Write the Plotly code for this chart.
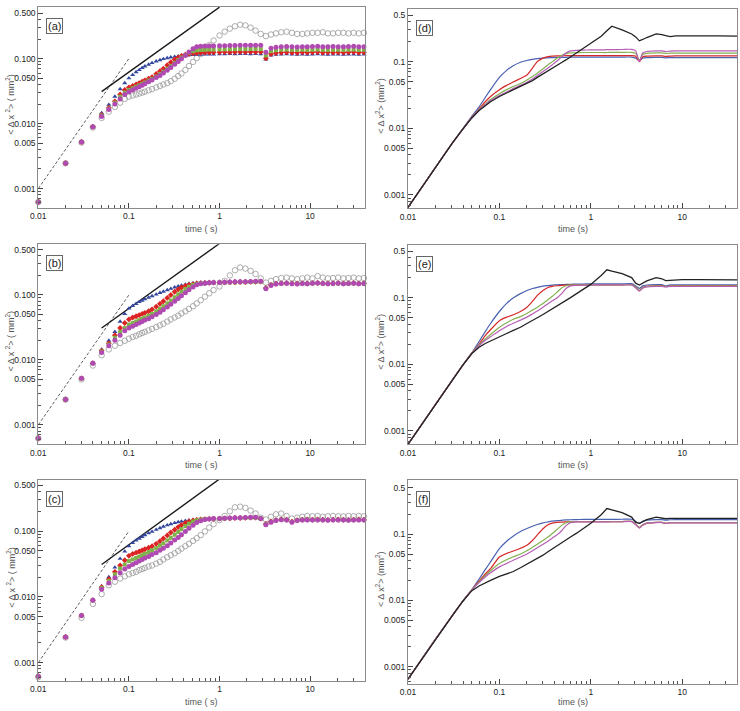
import plotly.graph_objects as go

# ---------------- data: left panels (markers) ----------------
T = [0.01, 0.02, 0.03, 0.04, 0.05, 0.06, 0.07, 0.08, 0.09, 0.10,
     0.11, 0.12, 0.13, 0.14, 0.15, 0.165, 0.18, 0.20, 0.22, 0.24, 0.265, 0.29, 0.32, 0.35, 0.38, 0.42,
     0.46, 0.51, 0.56, 0.62, 0.69, 0.77, 0.86,
     1.0, 1.14, 1.3, 1.48, 1.69, 1.93, 2.2, 2.5, 2.85, 3.25, 3.7, 4.2, 4.8, 5.5, 6.3, 7.2, 8.2, 9.3,
     10.6, 12.1, 13.8, 15.7, 17.9, 20.4, 23.3, 26.5, 30.2, 34.4, 39.2]

a_blue = [0.00062, 0.00245, 0.0052, 0.0090, 0.0146, 0.0195, 0.026, 0.034, 0.042, 0.050,
          0.056, 0.062, 0.067, 0.072, 0.076, 0.081, 0.086, 0.091, 0.095, 0.099, 0.102, 0.105, 0.107, 0.109, 0.111, 0.112, 0.113, 0.114, 0.115, 0.115, 0.116, 0.116, 0.116,
          0.117, 0.117, 0.118, 0.117, 0.118, 0.118, 0.117, 0.118, 0.117, 0.097, 0.112, 0.115, 0.116, 0.117, 0.116, 0.115, 0.116, 0.115, 0.116, 0.117, 0.116, 0.115, 0.116, 0.116, 0.115, 0.116, 0.116, 0.115, 0.116]
a_red = [0.00062, 0.00245, 0.0052, 0.0089, 0.0136, 0.0175, 0.022, 0.028, 0.033, 0.036,
         0.038, 0.040, 0.042, 0.044, 0.046, 0.049, 0.052, 0.058, 0.064, 0.070, 0.079, 0.088, 0.097, 0.104, 0.110, 0.115, 0.118, 0.121, 0.122, 0.123, 0.124, 0.124, 0.125,
         0.125, 0.126, 0.125, 0.126, 0.127, 0.126, 0.127, 0.126, 0.127, 0.101, 0.118, 0.122, 0.124, 0.125, 0.124, 0.123, 0.125, 0.124, 0.125, 0.126, 0.124, 0.125, 0.124, 0.125, 0.124, 0.125, 0.126, 0.124, 0.125]
a_green = [0.00062, 0.00245, 0.0052, 0.0089, 0.0133, 0.0170, 0.021, 0.026, 0.030, 0.033,
           0.035, 0.037, 0.039, 0.041, 0.043, 0.046, 0.049, 0.053, 0.058, 0.063, 0.070, 0.077, 0.086, 0.095, 0.104, 0.114, 0.123, 0.130, 0.134, 0.136, 0.137, 0.138, 0.138,
           0.139, 0.139, 0.140, 0.140, 0.141, 0.140, 0.141, 0.141, 0.140, 0.112, 0.130, 0.135, 0.137, 0.138, 0.137, 0.136, 0.137, 0.136, 0.137, 0.138, 0.137, 0.136, 0.137, 0.137, 0.136, 0.137, 0.138, 0.136, 0.137]
a_mag = [0.00062, 0.00245, 0.0052, 0.0089, 0.0128, 0.0165, 0.020, 0.024, 0.028, 0.031,
         0.033, 0.035, 0.037, 0.039, 0.041, 0.044, 0.047, 0.051, 0.055, 0.060, 0.066, 0.073, 0.082, 0.090, 0.100, 0.112, 0.126, 0.142, 0.152, 0.155, 0.156, 0.157, 0.157,
         0.158, 0.158, 0.159, 0.159, 0.160, 0.160, 0.160, 0.161, 0.160, 0.125, 0.145, 0.150, 0.153, 0.154, 0.152, 0.151, 0.153, 0.152, 0.154, 0.155, 0.153, 0.152, 0.154, 0.153, 0.152, 0.154, 0.155, 0.153, 0.153]
a_open = [0.00062, 0.00245, 0.0051, 0.0087, 0.0122, 0.0152, 0.018, 0.021, 0.024, 0.026,
          0.027, 0.028, 0.029, 0.030, 0.031, 0.0325, 0.034, 0.036, 0.038, 0.040, 0.042, 0.045, 0.049, 0.054, 0.059, 0.067, 0.077, 0.089, 0.102, 0.118, 0.138, 0.162, 0.19,
          0.227, 0.26, 0.29, 0.315, 0.333, 0.325, 0.30, 0.27, 0.24, 0.222, 0.235, 0.245, 0.255, 0.26, 0.25, 0.24, 0.24, 0.245, 0.25, 0.25, 0.255, 0.245, 0.245, 0.25, 0.25, 0.245, 0.25, 0.245, 0.25]

b_blue = [0.00062, 0.00245, 0.0052, 0.0090, 0.0145, 0.0198, 0.027, 0.039, 0.051, 0.062,
          0.068, 0.073, 0.078, 0.082, 0.086, 0.091, 0.096, 0.102, 0.108, 0.113, 0.119, 0.125, 0.131, 0.136, 0.140, 0.145, 0.149, 0.152, 0.154, 0.156, 0.157, 0.158, 0.159,
          0.160, 0.160, 0.161, 0.161, 0.162, 0.162, 0.162, 0.163, 0.163, 0.130, 0.145, 0.150, 0.153, 0.154, 0.153, 0.152, 0.153, 0.152, 0.154, 0.155, 0.153, 0.152, 0.153, 0.154, 0.152, 0.153, 0.154, 0.152, 0.153]
b_red = [0.00062, 0.00245, 0.0052, 0.0089, 0.0138, 0.018, 0.024, 0.031, 0.037, 0.042,
         0.045, 0.047, 0.049, 0.051, 0.053, 0.056, 0.060, 0.066, 0.073, 0.080, 0.090, 0.100, 0.112, 0.122, 0.130, 0.138, 0.143, 0.147, 0.150, 0.152, 0.153, 0.154, 0.155,
         0.156, 0.156, 0.157, 0.157, 0.158, 0.158, 0.159, 0.159, 0.160, 0.128, 0.143, 0.149, 0.151, 0.152, 0.151, 0.150, 0.151, 0.150, 0.152, 0.153, 0.151, 0.150, 0.151, 0.152, 0.150, 0.151, 0.152, 0.150, 0.151]
b_green = [0.00062, 0.00245, 0.0052, 0.0089, 0.0135, 0.0172, 0.022, 0.027, 0.031, 0.035,
           0.037, 0.039, 0.041, 0.043, 0.045, 0.048, 0.051, 0.056, 0.061, 0.067, 0.074, 0.082, 0.092, 0.102, 0.112, 0.124, 0.134, 0.143, 0.148, 0.151, 0.152, 0.153, 0.154,
           0.155, 0.155, 0.156, 0.156, 0.157, 0.157, 0.158, 0.158, 0.159, 0.127, 0.142, 0.148, 0.150, 0.151, 0.150, 0.149, 0.150, 0.149, 0.151, 0.152, 0.150, 0.149, 0.150, 0.151, 0.149, 0.150, 0.151, 0.149, 0.150]
b_mag = [0.00062, 0.00245, 0.0052, 0.0089, 0.013, 0.0165, 0.020, 0.024, 0.028, 0.031,
         0.033, 0.035, 0.037, 0.039, 0.041, 0.043, 0.046, 0.050, 0.054, 0.059, 0.065, 0.072, 0.080, 0.088, 0.097, 0.108, 0.120, 0.133, 0.143, 0.149, 0.152, 0.154, 0.155,
         0.156, 0.157, 0.158, 0.159, 0.160, 0.160, 0.161, 0.162, 0.162, 0.125, 0.140, 0.147, 0.150, 0.151, 0.149, 0.148, 0.150, 0.149, 0.151, 0.153, 0.150, 0.149, 0.150, 0.151, 0.149, 0.150, 0.151, 0.149, 0.150]
b_open = [0.00062, 0.00245, 0.0050, 0.0082, 0.0118, 0.0145, 0.0165, 0.0182, 0.0197, 0.0212,
          0.0225, 0.0235, 0.0248, 0.026, 0.027, 0.0285, 0.030, 0.032, 0.034, 0.036, 0.039, 0.042, 0.045, 0.048, 0.052, 0.056, 0.061, 0.067, 0.074, 0.083, 0.094, 0.106, 0.119,
          0.135, 0.165, 0.20, 0.24, 0.265, 0.255, 0.235, 0.21, 0.18, 0.155, 0.165, 0.175, 0.182, 0.185, 0.18, 0.175, 0.18, 0.185, 0.18, 0.195, 0.185, 0.18, 0.182, 0.185, 0.18, 0.182, 0.185, 0.18, 0.182]

c_blue = [0.00062, 0.00245, 0.0052, 0.0090, 0.0145, 0.020, 0.028, 0.038, 0.049, 0.059,
          0.066, 0.072, 0.077, 0.082, 0.087, 0.093, 0.098, 0.105, 0.111, 0.117, 0.123, 0.128, 0.133, 0.137, 0.140, 0.143, 0.146, 0.148, 0.150, 0.151, 0.152, 0.153, 0.154,
          0.155, 0.156, 0.157, 0.158, 0.158, 0.159, 0.160, 0.160, 0.155, 0.130, 0.140, 0.148, 0.152, 0.150, 0.140, 0.148, 0.150, 0.151, 0.150, 0.151, 0.150, 0.149, 0.150, 0.151, 0.150, 0.149, 0.150, 0.151, 0.150]
c_red = [0.00062, 0.00245, 0.0052, 0.0089, 0.014, 0.0185, 0.024, 0.030, 0.036, 0.042,
         0.045, 0.047, 0.049, 0.051, 0.053, 0.056, 0.059, 0.064, 0.070, 0.077, 0.086, 0.095, 0.105, 0.115, 0.124, 0.133, 0.140, 0.145, 0.148, 0.150, 0.152, 0.153, 0.154,
         0.155, 0.156, 0.157, 0.158, 0.158, 0.159, 0.160, 0.160, 0.155, 0.128, 0.139, 0.147, 0.151, 0.149, 0.139, 0.147, 0.149, 0.150, 0.149, 0.150, 0.149, 0.148, 0.149, 0.150, 0.149, 0.148, 0.149, 0.150, 0.149]
c_green = [0.00062, 0.00245, 0.0052, 0.0089, 0.0137, 0.0175, 0.022, 0.027, 0.031, 0.035,
           0.037, 0.039, 0.041, 0.043, 0.045, 0.048, 0.051, 0.055, 0.060, 0.065, 0.072, 0.079, 0.088, 0.097, 0.107, 0.119, 0.130, 0.140, 0.146, 0.150, 0.152, 0.153, 0.154,
           0.155, 0.156, 0.157, 0.158, 0.158, 0.159, 0.160, 0.160, 0.155, 0.127, 0.138, 0.146, 0.150, 0.148, 0.138, 0.146, 0.148, 0.149, 0.148, 0.149, 0.148, 0.147, 0.148, 0.149, 0.148, 0.147, 0.148, 0.149, 0.148]
c_mag = [0.00062, 0.00245, 0.0052, 0.0089, 0.013, 0.0163, 0.0195, 0.0232, 0.0265, 0.029,
         0.031, 0.033, 0.035, 0.037, 0.039, 0.041, 0.044, 0.047, 0.051, 0.055, 0.060, 0.066, 0.073, 0.080, 0.088, 0.099, 0.110, 0.123, 0.135, 0.144, 0.150, 0.153, 0.155,
         0.156, 0.157, 0.158, 0.159, 0.160, 0.161, 0.162, 0.162, 0.156, 0.125, 0.136, 0.145, 0.149, 0.147, 0.136, 0.145, 0.147, 0.148, 0.147, 0.148, 0.147, 0.146, 0.147, 0.148, 0.147, 0.146, 0.147, 0.148, 0.147]
c_open = [0.00060, 0.0024, 0.0048, 0.0078, 0.011, 0.015, 0.017, 0.019, 0.0205, 0.022,
          0.023, 0.024, 0.0255, 0.0265, 0.0275, 0.029, 0.030, 0.032, 0.034, 0.037, 0.040, 0.043, 0.046, 0.050, 0.054, 0.059, 0.064, 0.071, 0.078, 0.087, 0.099, 0.113, 0.128,
          0.147, 0.17, 0.20, 0.23, 0.235, 0.225, 0.205, 0.185, 0.16, 0.15, 0.165, 0.18, 0.185, 0.17, 0.155, 0.16, 0.165, 0.17, 0.168, 0.17, 0.165, 0.168, 0.17, 0.168, 0.167, 0.17, 0.168, 0.17, 0.168]

# guide lines in left panels
guide_t = [0.05, 1.0]
guide_y = [0.031, 0.62]
quad_t = [0.01, 0.1]
quad_y = [0.001, 0.1]

# ---------------- data: right panels (lines) ----------------
L = [0.01, 0.02, 0.03, 0.04, 0.05, 0.06, 0.07, 0.08,
     0.1, 0.12, 0.14, 0.17, 0.2, 0.23, 0.26, 0.3, 0.34, 0.38, 0.43, 0.48, 0.54, 0.6, 0.7, 0.82,
     1.0, 1.3, 1.5, 1.7, 2.2, 2.8, 3.1, 3.4, 3.7, 4.1, 5.2, 6.0, 6.6, 7.4, 8.5, 10, 15, 25, 40]

d_blue = [0.00065, 0.0026, 0.0058, 0.0100, 0.0152, 0.021, 0.029, 0.038,
          0.058, 0.074, 0.086, 0.098, 0.104, 0.108, 0.111, 0.113, 0.114, 0.115, 0.116, 0.116, 0.116, 0.117, 0.117, 0.117,
          0.117, 0.117, 0.117, 0.117, 0.117, 0.117, 0.113, 0.103, 0.113, 0.115, 0.116, 0.116, 0.114, 0.115, 0.115, 0.115, 0.115, 0.115, 0.115]
d_red = [0.00065, 0.0026, 0.0058, 0.0098, 0.0147, 0.0195, 0.025, 0.030,
         0.038, 0.044, 0.049, 0.056, 0.063, 0.080, 0.100, 0.113, 0.119, 0.121, 0.122, 0.122, 0.123, 0.123, 0.123, 0.123,
         0.123, 0.123, 0.123, 0.123, 0.123, 0.123, 0.120, 0.100, 0.118, 0.121, 0.122, 0.122, 0.120, 0.121, 0.122, 0.122, 0.122, 0.122, 0.122]
d_green = [0.00065, 0.0026, 0.0058, 0.0098, 0.0146, 0.019, 0.023, 0.027,
           0.033, 0.038, 0.042, 0.047, 0.053, 0.060, 0.067, 0.078, 0.090, 0.100, 0.113, 0.124, 0.132, 0.135, 0.136, 0.137,
           0.137, 0.137, 0.137, 0.138, 0.138, 0.138, 0.133, 0.105, 0.128, 0.133, 0.135, 0.135, 0.133, 0.134, 0.134, 0.134, 0.134, 0.134, 0.134]
d_mag = [0.00065, 0.0026, 0.0058, 0.0098, 0.0145, 0.0188, 0.0225, 0.026,
         0.031, 0.035, 0.039, 0.044, 0.049, 0.055, 0.062, 0.071, 0.080, 0.090, 0.103, 0.118, 0.136, 0.145, 0.148, 0.149,
         0.150, 0.150, 0.151, 0.151, 0.152, 0.153, 0.145, 0.100, 0.135, 0.142, 0.145, 0.145, 0.142, 0.144, 0.145, 0.145, 0.145, 0.145, 0.145]
d_black = [0.00065, 0.0026, 0.0058, 0.0098, 0.0143, 0.0185, 0.022, 0.025,
           0.030, 0.034, 0.037, 0.042, 0.047, 0.052, 0.058, 0.065, 0.072, 0.079, 0.088, 0.097, 0.107, 0.118, 0.135, 0.155,
           0.185, 0.24, 0.29, 0.34, 0.30, 0.26, 0.235, 0.205, 0.215, 0.23, 0.26, 0.255, 0.245, 0.238, 0.243, 0.245, 0.244, 0.243, 0.242]

e_blue = [0.00063, 0.0025, 0.0056, 0.0098, 0.0148, 0.022, 0.031, 0.041,
          0.062, 0.082, 0.098, 0.115, 0.128, 0.137, 0.143, 0.149, 0.152, 0.154, 0.156, 0.157, 0.158, 0.159, 0.160, 0.160,
          0.161, 0.161, 0.161, 0.161, 0.161, 0.162, 0.150, 0.138, 0.150, 0.155, 0.157, 0.157, 0.150, 0.155, 0.155, 0.155, 0.155, 0.155, 0.155]
e_red = [0.00063, 0.0025, 0.0056, 0.0098, 0.0148, 0.020, 0.027, 0.033,
         0.045, 0.051, 0.055, 0.062, 0.072, 0.088, 0.108, 0.128, 0.142, 0.148, 0.151, 0.153, 0.154, 0.155, 0.155, 0.155,
         0.156, 0.156, 0.156, 0.156, 0.156, 0.156, 0.145, 0.128, 0.142, 0.148, 0.150, 0.150, 0.147, 0.149, 0.150, 0.150, 0.150, 0.150, 0.150]
e_green = [0.00063, 0.0025, 0.0056, 0.0098, 0.0147, 0.0195, 0.024, 0.028,
           0.036, 0.042, 0.047, 0.052, 0.058, 0.065, 0.072, 0.082, 0.093, 0.105, 0.122, 0.140, 0.151, 0.154, 0.155, 0.155,
           0.156, 0.156, 0.156, 0.156, 0.156, 0.156, 0.144, 0.128, 0.141, 0.147, 0.149, 0.149, 0.146, 0.148, 0.149, 0.149, 0.149, 0.149, 0.149]
e_mag = [0.00063, 0.0025, 0.0056, 0.0098, 0.0146, 0.019, 0.023, 0.026,
         0.032, 0.037, 0.041, 0.046, 0.051, 0.057, 0.063, 0.072, 0.081, 0.090, 0.100, 0.115, 0.138, 0.150, 0.153, 0.154,
         0.155, 0.155, 0.155, 0.155, 0.155, 0.155, 0.140, 0.125, 0.138, 0.145, 0.147, 0.147, 0.145, 0.147, 0.147, 0.147, 0.147, 0.147, 0.147]
e_black = [0.00063, 0.0025, 0.0056, 0.0098, 0.0145, 0.018, 0.0205, 0.0225,
           0.026, 0.029, 0.032, 0.036, 0.041, 0.045, 0.050, 0.056, 0.062, 0.068, 0.075, 0.083, 0.092, 0.100, 0.115, 0.133,
           0.158, 0.215, 0.262, 0.25, 0.23, 0.20, 0.165, 0.155, 0.165, 0.178, 0.20, 0.192, 0.18, 0.182, 0.186, 0.187, 0.186, 0.185, 0.185]

f_blue = [0.00065, 0.0026, 0.0057, 0.0098, 0.0145, 0.021, 0.029, 0.038,
          0.060, 0.078, 0.092, 0.109, 0.121, 0.131, 0.139, 0.147, 0.152, 0.156, 0.159, 0.161, 0.163, 0.164, 0.165, 0.166,
          0.166, 0.166, 0.166, 0.166, 0.167, 0.167, 0.155, 0.145, 0.155, 0.162, 0.165, 0.165, 0.162, 0.164, 0.165, 0.165, 0.165, 0.165, 0.165]
f_red = [0.00065, 0.0026, 0.0057, 0.0098, 0.0145, 0.0195, 0.025, 0.030,
         0.045, 0.051, 0.055, 0.061, 0.068, 0.080, 0.097, 0.120, 0.138, 0.146, 0.150, 0.151, 0.152, 0.152, 0.153, 0.153,
         0.153, 0.153, 0.153, 0.154, 0.154, 0.155, 0.140, 0.125, 0.138, 0.146, 0.150, 0.150, 0.145, 0.148, 0.148, 0.148, 0.148, 0.148, 0.148]
f_green = [0.00065, 0.0026, 0.0057, 0.0098, 0.0145, 0.019, 0.0235, 0.028,
           0.036, 0.041, 0.045, 0.050, 0.056, 0.063, 0.070, 0.080, 0.090, 0.102, 0.118, 0.135, 0.148, 0.152, 0.153, 0.153,
           0.153, 0.153, 0.153, 0.154, 0.154, 0.155, 0.140, 0.125, 0.138, 0.146, 0.150, 0.150, 0.145, 0.148, 0.148, 0.148, 0.148, 0.148, 0.148]
f_mag = [0.00065, 0.0026, 0.0057, 0.0098, 0.0144, 0.0185, 0.0225, 0.026,
         0.032, 0.036, 0.040, 0.045, 0.050, 0.056, 0.062, 0.070, 0.078, 0.087, 0.098, 0.112, 0.135, 0.148, 0.152, 0.152,
         0.152, 0.152, 0.152, 0.153, 0.153, 0.154, 0.138, 0.123, 0.136, 0.145, 0.149, 0.149, 0.144, 0.147, 0.147, 0.147, 0.147, 0.147, 0.147]
f_black = [0.00065, 0.0026, 0.0057, 0.0098, 0.0140, 0.0165, 0.0185, 0.020,
           0.023, 0.025, 0.027, 0.031, 0.035, 0.039, 0.043, 0.048, 0.054, 0.060, 0.067, 0.074, 0.082, 0.090, 0.103, 0.120,
           0.145, 0.195, 0.242, 0.232, 0.21, 0.18, 0.15, 0.145, 0.155, 0.165, 0.18, 0.175, 0.17, 0.172, 0.174, 0.172, 0.172, 0.172, 0.172]

# tick labels
x_tickvals = [0.01, 0.1, 1, 10]
x_ticktext = ["0.01", "0.1", "1", "10"]
x_minor = [0.02, 0.03, 0.04, 0.05, 0.06, 0.07, 0.08, 0.09, 0.2, 0.3, 0.4, 0.5, 0.6, 0.7, 0.8, 0.9,
           2, 3, 4, 5, 6, 7, 8, 9, 20, 30, 40]
y_tickvals = [0.001, 0.005, 0.01, 0.05, 0.1, 0.5]
y_ticktext_left = ["0.001", "0.005", "0.010", "0.050", "0.100", "0.500"]
y_ticktext_right = ["0.001", "0.005", "0.01", "0.05", "0.1", "0.5"]
y_minor = [0.0006, 0.0007, 0.0008, 0.0009, 0.002, 0.003, 0.004, 0.006, 0.007, 0.008, 0.009,
           0.02, 0.03, 0.04, 0.06, 0.07, 0.08, 0.09, 0.2, 0.3, 0.4]

panel_labels = ["(a)", "(b)", "(c)", "(d)", "(e)", "(f)"]

# ---------------- styling ----------------
W, H = 740, 711
C_BLUE = "#34479e"
C_RED = "#dc2323"
C_GREEN = "#80b24a"
C_MAG = "#b04ab2"
C_OPEN = "#8c8c8c"
LC_BLUE = "#4a62b2"
LC_RED = "#d62828"
LC_GREEN = "#84b050"
LC_MAG = "#b65db6"
LC_BLACK = "#222222"
FONT = "Liberation Sans, Arial, sans-serif"

# panel geometry in pixels: x0, x1, top, bottom, y-range(log10), x-title centre y
geo = [
    (38.3, 364.5, 7.0, 208.0, [-3.30, -0.205], 229),
    (38.3, 364.5, 244.3, 444.3, [-3.30, -0.22], 465),
    (38.3, 364.5, 480.0, 681.0, [-3.28, -0.223], 702),
    (408.0, 737.0, 9.3, 208.3, [-3.20, -0.215], 229),
    (408.0, 737.0, 245.0, 444.3, [-3.20, -0.21], 465),
    (408.0, 737.0, 480.0, 684.0, [-3.26, -0.186], 702),
]

fig = go.Figure()

def ax_ids(i):
    return ("x" if i == 0 else f"x{i+1}", "y" if i == 0 else f"y{i+1}")

left_sets = [
    (a_open, a_blue, a_red, a_green, a_mag),
    (b_open, b_blue, b_red, b_green, b_mag),
    (c_open, c_blue, c_red, c_green, c_mag),
]
for i, (op, bl, rd, gr, mg) in enumerate(left_sets):
    xa, ya = ax_ids(i)
    fig.add_trace(go.Scatter(x=quad_t, y=quad_y, mode="lines", xaxis=xa, yaxis=ya,
                             line=dict(color="#333333", width=0.8, dash="3px,2px")))
    fig.add_trace(go.Scatter(x=guide_t, y=guide_y, mode="lines", xaxis=xa, yaxis=ya,
                             line=dict(color="#1a1a1a", width=1.4)))
    fig.add_trace(go.Scatter(x=T, y=op, mode="markers", xaxis=xa, yaxis=ya, cliponaxis=False,
                             marker=dict(symbol="circle-open", size=5.5, color="#999999", line=dict(width=0.8))))
    fig.add_trace(go.Scatter(x=T, y=bl, mode="markers", xaxis=xa, yaxis=ya, cliponaxis=False,
                             marker=dict(symbol="triangle-up", size=4.5, color=C_BLUE)))
    fig.add_trace(go.Scatter(x=T, y=rd, mode="markers", xaxis=xa, yaxis=ya, cliponaxis=False,
                             marker=dict(symbol="diamond", size=4.5, color=C_RED)))
    fig.add_trace(go.Scatter(x=T, y=gr, mode="markers", xaxis=xa, yaxis=ya, cliponaxis=False,
                             marker=dict(symbol="square", size=4, color=C_GREEN)))
    fig.add_trace(go.Scatter(x=T, y=mg, mode="markers", xaxis=xa, yaxis=ya, cliponaxis=False,
                             marker=dict(symbol="circle", size=5, color=C_MAG)))

right_sets = [
    (d_blue, d_red, d_green, d_mag, d_black),
    (e_blue, e_red, e_green, e_mag, e_black),
    (f_blue, f_red, f_green, f_mag, f_black),
]
for j, (bl, rd, gr, mg, bk) in enumerate(right_sets):
    xa, ya = ax_ids(j + 3)
    for ser, col in ((bl, LC_BLUE), (rd, LC_RED), (gr, LC_GREEN), (mg, LC_MAG)):
        fig.add_trace(go.Scatter(x=L, y=ser, mode="lines", xaxis=xa, yaxis=ya,
                                 line=dict(color=col, width=1.2, shape="spline", smoothing=0.6)))
    fig.add_trace(go.Scatter(x=L, y=bk, mode="lines", xaxis=xa, yaxis=ya,
                             line=dict(color=LC_BLACK, width=1.3)))

layout = dict(width=W, height=H, margin=dict(l=0, r=0, t=0, b=0, autoexpand=False),
              paper_bgcolor="white", plot_bgcolor="white", showlegend=False,
              font=dict(family=FONT, size=8.5, color="#222222"))
annotations = []
for i, (x0, x1, top, bot, yr, ty) in enumerate(geo):
    xname = "xaxis" if i == 0 else f"xaxis{i+1}"
    yname = "yaxis" if i == 0 else f"yaxis{i+1}"
    xa, ya = ax_ids(i)
    left = i < 3
    layout[xname] = dict(
        domain=[x0 / W, x1 / W], anchor=ya, type="log", range=[-2, 1.6], automargin=False,
        tickvals=x_tickvals, ticktext=x_ticktext, ticks="inside", ticklen=5, tickwidth=1,
        tickcolor="#444444", showgrid=False, zeroline=False,
        showline=True, linecolor="#8a8a8a", linewidth=1, mirror=True,
        minor=dict(tickvals=x_minor, ticks="inside", ticklen=3, tickcolor="#555555", showgrid=False),
        tickfont=dict(size=8.5, color="#222222"),
    )
    layout[yname] = dict(
        domain=[1 - bot / H, 1 - top / H], anchor=xa, type="log", range=yr, automargin=False,
        tickvals=y_tickvals, ticktext=(y_ticktext_left if left else y_ticktext_right),
        ticks="inside", ticklen=5, tickwidth=1, tickcolor="#444444",
        showgrid=False, zeroline=False,
        showline=True, linecolor="#8a8a8a", linewidth=1, mirror=True,
        minor=dict(tickvals=y_minor, ticks="inside", ticklen=3, tickcolor="#555555", showgrid=False),
        tickfont=dict(size=8.5, color="#222222"),
    )
    # panel label box
    annotations.append(dict(
        text=panel_labels[i], xref="paper", yref="paper",
        x=(x0 + 8) / W, y=1 - (top + 11) / H, xanchor="left", yanchor="top",
        showarrow=False, font=dict(size=11, color="#222222"),
        bordercolor="#666666", borderwidth=1, borderpad=1, bgcolor="white"))
    # x title
    annotations.append(dict(
        text=("time ( s)" if left else "time (s)"), xref="paper", yref="paper",
        x=(x0 + x1) / 2 / W, y=1 - ty / H, xanchor="center", yanchor="middle",
        showarrow=False, font=dict(size=9, color="#555555")))
    # y title
    ytxt = "< Δ x <sup>2</sup>> ( mm<sup>2</sup>)" if left else "< Δ x<sup>2</sup>> (mm<sup>2</sup>)"
    annotations.append(dict(
        text=ytxt, xref="paper", yref="paper",
        x=(x0 - 28) / W, y=1 - ((top + bot) / 2 - 3) / H, xanchor="center", yanchor="middle",
        textangle=-90, showarrow=False, font=dict(size=9, color="#555555")))

layout["annotations"] = annotations
fig.update_layout(**layout)

fig.write_html("out.html")
